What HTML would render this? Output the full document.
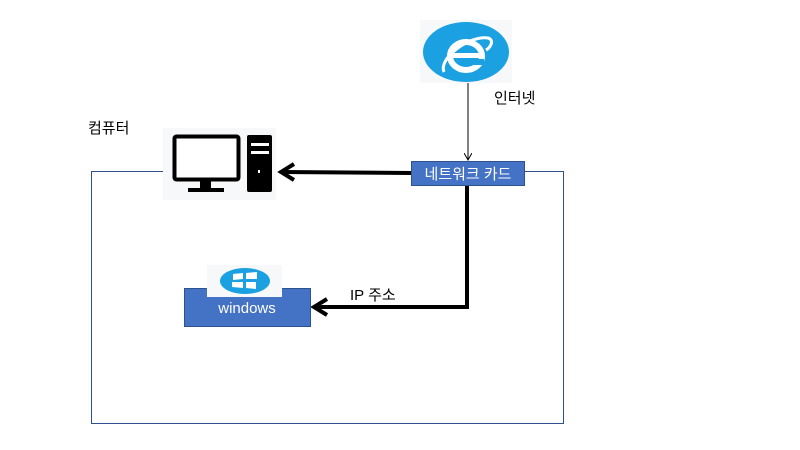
<!DOCTYPE html>
<html><head><meta charset="utf-8"><style>
body{margin:0;width:800px;height:450px;background:#fff;overflow:hidden;font-family:"Liberation Sans","Noto Sans CJK KR",sans-serif}
</style></head><body>
<svg width="800" height="450" xmlns="http://www.w3.org/2000/svg" style="position:absolute;left:0;top:0">
<defs>
<marker id="ah" markerWidth="8" markerHeight="8" refX="7" refY="4" orient="auto" markerUnits="userSpaceOnUse"><path d="M0,0 L7,4 L0,8" fill="none" stroke="#000" stroke-width="1"/></marker>
</defs>
<!-- container -->
<path d="M163,171.5 H91.5 V423.5 H563.5 V171.5 H525" fill="none" stroke="#2f4f8f" stroke-width="1"/>
<!-- computer -->
<rect x="163" y="128" width="113" height="72" fill="#f7f8fa"/>
<rect x="174.5" y="136.5" width="64" height="43" fill="#fff" stroke="#000" stroke-width="4" rx="2"/>
<rect x="200" y="181" width="11" height="8" fill="#000"/>
<rect x="188" y="188" width="36" height="4" fill="#000"/>
<rect x="247" y="135" width="25" height="57" fill="#000" rx="2"/>
<rect x="251" y="143" width="18" height="3" fill="#fff"/>
<rect x="251" y="151" width="18" height="3" fill="#fff"/>
<rect x="258" y="170" width="2" height="3" fill="#fff"/>
<!-- IE -->
<rect x="420" y="20" width="92" height="63" fill="#f7f8fa"/>
<ellipse cx="466" cy="52" rx="43" ry="30" fill="#1ba1e2"/>
<ellipse cx="466" cy="56" rx="16" ry="14" fill="none" stroke="#fff" stroke-width="6"/>
<rect x="452" y="53" width="28" height="5" fill="#fff"/>
<rect x="474" y="59" width="10" height="6" fill="#1ba1e2"/>
<path d="M444,72 C438,58 470,35 488,38 C495,40 490,48 486,50" fill="none" stroke="#fff" stroke-width="3"/>
<line x1="468" y1="83" x2="468" y2="160" stroke="#000" stroke-width="1" marker-end="url(#ah)"/>
<text x="494" y="103" font-size="15">인터넷</text>
<text x="88" y="133" font-size="15">컴퓨터</text>
<!-- arrows -->
<line x1="411" y1="173" x2="282" y2="172" stroke="#000" stroke-width="4"/>
<path d="M294,164 L281,172 L294,180" fill="none" stroke="#000" stroke-width="4"/>
<path d="M467,185 V307 H315" fill="none" stroke="#000" stroke-width="4"/>
<path d="M327,299 L314,307 L327,315" fill="none" stroke="#000" stroke-width="4"/>
<text x="350" y="300" font-size="15">IP 주소</text>
<!-- network card -->
<rect x="411.5" y="161.5" width="113" height="24" fill="#4472c4" stroke="#2f528f" stroke-width="1"/>
<text x="468" y="179" font-size="15" fill="#fff" text-anchor="middle">네트워크 카드</text>
<!-- windows -->
<rect x="184.5" y="288.5" width="126" height="38" fill="#4472c4" stroke="#2f528f" stroke-width="1"/>
<rect x="207" y="265" width="75" height="32" fill="#f7f8fa"/>
<ellipse cx="245" cy="281" rx="25" ry="13" fill="#1ba1e2"/>
<path d="M233,274 L243,273 L243,279 L233,280 Z M246,273 L257,272 L257,279 L246,279 Z M232,282 L243,282 L243,288 L232,287 Z M246,282 L256,282 L256,289 L246,288 Z" fill="#fff"/>
<text x="247" y="313" font-size="15" fill="#fff" text-anchor="middle">windows</text>
</svg>
</body></html>
